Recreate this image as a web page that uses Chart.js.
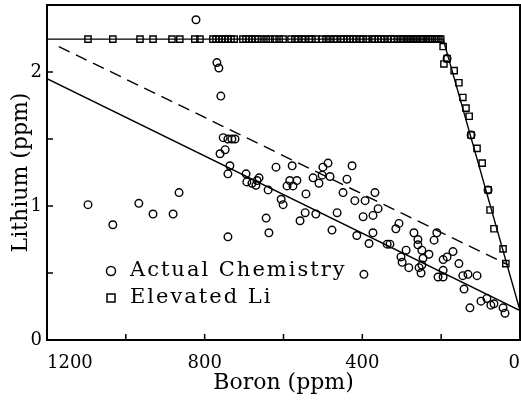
<!DOCTYPE html>
<html>
<head>
<meta charset="utf-8">
<title>Lithium vs Boron</title>
<script src="https://cdn.jsdelivr.net/npm/chart.js@4.4.1/dist/chart.umd.min.js"></script>
<style>
  body { margin: 0; background: #fff; }
</style>
</head>
<body>
<canvas id="myChart" width="521" height="400"></canvas>
<script>
// actual chemistry samples, boron vs lithium (ppm)
const actualBoron = [1096, 1033, 967, 931, 880, 865, 822, 769, 764, 759, 753, 741, 731, 723, 761, 748, 736, 741, 741,
  695, 693, 680, 670, 667, 662, 644, 639, 637, 619, 606, 601, 584, 566, 591, 576, 578, 543, 558, 545, 525,
  500, 487, 502, 482, 510, 518, 464, 477, 426, 439, 449, 419, 393, 368, 360, 373, 398, 373, 383, 414,
  337, 330, 396, 315, 307, 269, 259, 259, 249, 289, 302, 299, 282, 246, 249, 256, 251, 231, 211, 218,
  170, 185, 195, 195, 208, 195, 155, 145, 132, 109, 142, 127, 99, 84, 74, 66, 43, 38, 81, 124, 185];
const actualLithium = [1.01, 0.86, 1.02, 0.94, 0.94, 1.10, 2.39, 2.07, 2.03, 1.82, 1.51, 1.50, 1.50, 1.50, 1.39, 1.42, 1.30, 1.24, 0.77,
  1.24, 1.18, 1.17, 1.155, 1.19, 1.21, 0.91, 1.12, 0.80, 1.29, 1.05, 1.01, 1.19, 1.19, 1.15, 1.15, 1.30, 1.09, 0.89, 0.95, 1.21,
  1.29, 1.32, 1.23, 1.22, 1.17, 0.94, 0.95, 0.82, 1.30, 1.20, 1.10, 1.04, 1.04, 1.10, 0.98, 0.93, 0.92, 0.80, 0.72, 0.78,
  0.715, 0.715, 0.49, 0.83, 0.87, 0.80, 0.75, 0.71, 0.67, 0.67, 0.62, 0.58, 0.54, 0.61, 0.56, 0.54, 0.50, 0.64, 0.80, 0.745,
  0.66, 0.62, 0.60, 0.52, 0.47, 0.47, 0.57, 0.48, 0.49, 0.48, 0.38, 0.24, 0.29, 0.31, 0.26, 0.27, 0.24, 0.20, 1.12, 1.53, 2.10];

// elevated Li samples: the flat run at the top, then the steep limb to the right
const elevatedBoron = [1096, 1033, 964, 931, 883, 863, 825, 812,
  779, 771, 764, 756, 748, 741, 733, 725, 703, 695, 688, 680, 672, 665,
  655, 644, 634, 622, 611, 601, 581, 571, 563, 553, 545, 535, 528, 518, 502, 492, 482, 472, 464, 454,
  447, 439, 431, 424, 416, 406, 398, 388, 375, 368, 360, 353, 345, 335, 327, 320, 310, 302, 297, 289,
  284, 277, 271, 264, 259, 251, 246, 238, 233, 228, 223, 216, 211, 206, 201,
  195, 185, 193, 167, 155, 145, 137, 129, 124, 109, 96, 81, 76, 66, 43, 36];
const elevatedLithium = [2.245, 2.245, 2.245, 2.245, 2.245, 2.245, 2.245, 2.245,
  2.245, 2.245, 2.245, 2.245, 2.245, 2.245, 2.245, 2.245, 2.245, 2.245, 2.245, 2.245, 2.245, 2.245,
  2.245, 2.245, 2.245, 2.245, 2.245, 2.245, 2.245, 2.245, 2.245, 2.245, 2.245, 2.245, 2.245, 2.245, 2.245, 2.245, 2.245, 2.245, 2.245, 2.245,
  2.245, 2.245, 2.245, 2.245, 2.245, 2.245, 2.245, 2.245, 2.245, 2.245, 2.245, 2.245, 2.245, 2.245, 2.245, 2.245, 2.245, 2.245, 2.245, 2.245,
  2.245, 2.245, 2.245, 2.245, 2.245, 2.245, 2.245, 2.245, 2.245, 2.245, 2.245, 2.245, 2.245, 2.245, 2.245,
  2.19, 2.10, 2.06, 2.01, 1.92, 1.81, 1.73, 1.67, 1.53, 1.43, 1.32, 1.12, 0.97, 0.83, 0.68, 0.57];

// lines
const fitBoron = [1200, 0];
const fitLithium = [1.95, 0.22];
const dashBoron = [1170, 30];
const dashLithium = [2.19, 0.56];
const elevLineBoron = [1200, 195, 0];
const elevLineLithium = [2.245, 2.245, 0.22];

// labelled ticks
const xLabels = [0, 400, 800, 1200];
const yLabels = [0, 1, 2];
const legendLabels = ['Actual Chemistry', 'Elevated Li'];

function toPoints(xs, ys) {
  return xs.map((x, i) => ({ x: x, y: ys[i] }));
}

// tick marks point into the plot, the plot has a full box,
// and the end labels of the x axis sit inside the box edges
const innerTicks = {
  id: 'innerTicks',
  afterDraw(chart) {
    const { ctx, chartArea: a } = chart;
    const x = chart.scales.x, y = chart.scales.y;
    ctx.save();
    ctx.strokeStyle = '#000';
    ctx.lineWidth = 1.5;
    ctx.beginPath();
    x.ticks.forEach(t => {
      const px = x.getPixelForValue(t.value);
      ctx.moveTo(px, a.bottom);
      ctx.lineTo(px, a.bottom - 6);
    });
    y.ticks.forEach(t => {
      const py = y.getPixelForValue(t.value);
      ctx.moveTo(a.left, py);
      ctx.lineTo(a.left + 6, py);
    });
    ctx.stroke();
    ctx.lineWidth = 2;
    ctx.strokeRect(a.left, a.top, a.right - a.left, a.bottom - a.top);

    ctx.fillStyle = '#000';
    ctx.font = "18px 'DejaVu Serif', serif";
    ctx.textBaseline = 'middle';
    xLabels.forEach(v => {
      const px = x.getPixelForValue(v);
      ctx.textAlign = v === x.max ? 'left' : (v === x.min ? 'right' : 'center');
      ctx.fillText(String(v), px, a.bottom + 23);
    });
    ctx.restore();
  }
};

// legend sits inside the plot, lower left
const boxLegend = {
  id: 'boxLegend',
  afterDraw(chart) {
    const { ctx, chartArea: a } = chart;
    const mx = a.left + 64, tx = a.left + 83;
    const rows = [a.top + 266, a.top + 293];
    ctx.save();
    ctx.strokeStyle = '#000';
    ctx.fillStyle = '#000';
    ctx.lineWidth = 1.5;
    ctx.beginPath();
    ctx.arc(mx, rows[0], 4.5, 0, Math.PI * 2);
    ctx.stroke();
    ctx.strokeRect(mx - 4, rows[1] - 4, 8, 8);
    ctx.font = "21px 'DejaVu Serif', serif";
    ctx.letterSpacing = '2px';
    ctx.textBaseline = 'middle';
    ctx.fillText(legendLabels[0], tx, rows[0]);
    ctx.fillText(legendLabels[1], tx, rows[1]);
    ctx.restore();
  }
};

Chart.defaults.font.family = "'DejaVu Serif', serif";
Chart.defaults.color = '#000';

let ctx = document.getElementById('myChart').getContext('2d');

let myChart = new Chart(ctx, {
  type: 'scatter',
  data: {
    datasets: [{
      label: 'fit',
      data: toPoints(fitBoron, fitLithium),
      showLine: true,
      borderColor: '#000',
      borderWidth: 1.4,
      pointRadius: 0
    }, {
      label: 'upper',
      data: toPoints(dashBoron, dashLithium),
      showLine: true,
      borderColor: '#000',
      borderWidth: 1.4,
      borderDash: [12, 7],
      pointRadius: 0
    }, {
      label: 'elevated line',
      data: toPoints(elevLineBoron, elevLineLithium),
      showLine: true,
      borderColor: '#000',
      borderWidth: 1.4,
      pointRadius: 0
    }, {
      label: legendLabels[0],
      data: toPoints(actualBoron, actualLithium),
      pointStyle: 'circle',
      pointRadius: 3.8,
      borderWidth: 1.4,
      borderColor: '#000',
      backgroundColor: 'rgba(0,0,0,0)'
    }, {
      label: legendLabels[1],
      data: toPoints(elevatedBoron, elevatedLithium),
      pointStyle: 'rect',
      pointRadius: 4.4,
      borderWidth: 1.4,
      borderColor: '#000',
      backgroundColor: 'rgba(0,0,0,0)'
    }]
  },
  options: {
    responsive: false,
    animation: false,
    layout: { autoPadding: false, padding: { top: 5, right: 1, left: 0, bottom: 0 } },
    plugins: {
      legend: { display: false },
      tooltip: { enabled: false }
    },
    scales: {
      x: {
        type: 'linear',
        reverse: true,
        min: 0,
        max: 1200,
        afterFit: (s) => { s.height = 60; s.paddingLeft = 0; s.paddingRight = 0; },
        grid: { display: false, drawTicks: false },
        border: { display: false },
        ticks: {
          display: false,
          stepSize: 200,
          autoSkip: false,
          maxRotation: 0
        },
        title: {
          display: true,
          text: 'Boron (ppm)',
          font: { size: 22 },
          padding: { top: 0, bottom: 4 }
        }
      },
      y: {
        min: 0,
        max: 2.5,
        afterFit: (s) => { s.width = 47; s.paddingTop = 0; s.paddingBottom = 0; },
        grid: { display: false, drawTicks: false },
        border: { display: false },
        ticks: {
          stepSize: 0.5,
          autoSkip: false,
          padding: 5,
          font: { size: 18 },
          callback: (v) => yLabels.includes(v) ? String(v) : ''
        },
        title: {
          display: true,
          text: 'Lithium (ppm)',
          font: { size: 22 },
          padding: { top: 8, bottom: 0 }
        }
      }
    }
  },
  plugins: [innerTicks, boxLegend]
});
</script>
</body>
</html>
